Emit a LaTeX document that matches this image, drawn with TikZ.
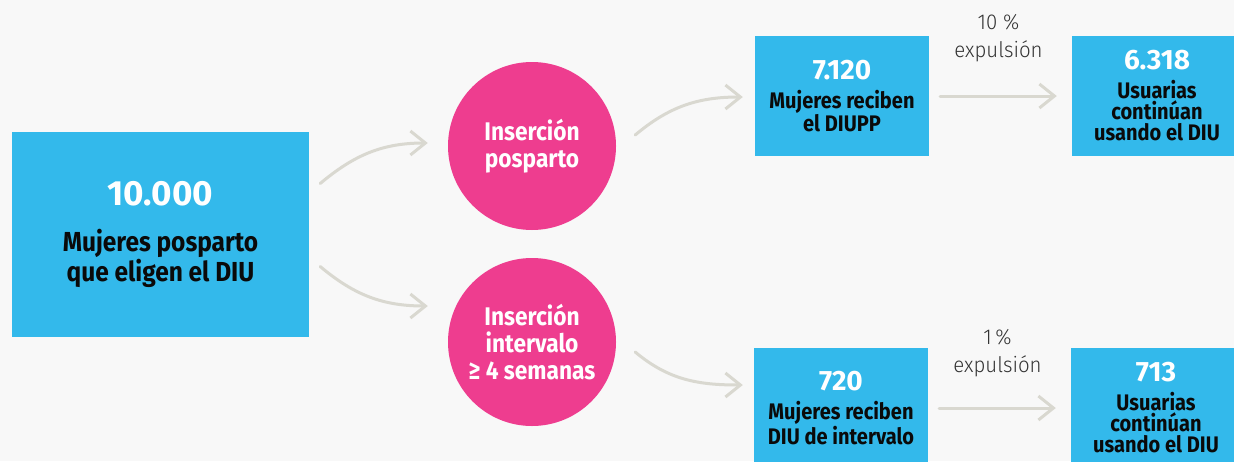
\documentclass[tikz,border=0pt]{standalone}
\usepackage{fontspec}
\usepackage{xcolor}
\usetikzlibrary{arrows.meta,positioning}
\setmainfont{Fira Sans}[FakeStretch=0.89]
\newfontfamily\numfont{Fira Sans}
\newfontfamily\lightfont{Fira Sans Light}[FakeStretch=0.95]
\definecolor{vsky}{HTML}{33B9EB}
\definecolor{vpink}{HTML}{EE3D8F}
\definecolor{varrow}{HTML}{D9D8D0}
\definecolor{vbg}{HTML}{F8F8F8}
\definecolor{vink}{HTML}{0A0A0A}
\definecolor{vlabel}{HTML}{333333}
\newcommand{\boxnum}[2]{{\numfont\bfseries\color{white}\fontsize{#2}{#2}\selectfont #1}}

\begin{document}
\begin{tikzpicture}[x=1pt, y=1pt,
		box/.style={fill=vsky, inner sep=0, align=center, text=vink, minimum width=174pt, minimum height=120pt, font=\bfseries\fontsize{22.5}{21}\selectfont},
		disc/.style={circle, fill=vpink, minimum size=168pt, inner sep=0, align=center, text=white, font=\bfseries\fontsize{25.5}{27}\selectfont},
		flow/.style={draw=varrow, line width=3pt, line cap=round, -{Straight Barb[length=15pt,width=24pt]}},
		note/.style={align=center, text=vlabel, font=\lightfont\fontsize{21.5}{28}\selectfont}]
		\clip (0,0) rectangle (1234,-461);
		\fill[vbg] (0,0) rectangle (1234,-461);
		% boxes and discs
		\node[box, minimum width=297pt, minimum height=205pt, font=\bfseries\fontsize{27.5}{30}\selectfont] (big) at (160.5,-234.5) {\boxnum{10.000}{35}\\[16pt]Mujeres posparto\\que eligen el DIU};
		\node[disc] (ins1) at (532,-146) {Inserción\\posparto};
		\node[disc] (ins2) at (532,-342) {Inserción\\intervalo\\≥ 4 semanas};
		\node[box] (rec1) at (842,-96) {\boxnum{7.120}{28}\\[8pt]Mujeres reciben\\el DIUPP};
		\node[box] (rec2) at (841,-408) {\boxnum{720}{28}\\[8pt]Mujeres reciben\\DIU de intervalo};
		\node[box, minimum width=170pt] (cont1) at (1157,-96) {\boxnum{6.318}{28}\\[8pt]Usuarias\\continúan\\usando el DIU};
		\node[box, minimum width=170pt] (cont2) at (1156,-408) {\boxnum{713}{28}\\[8pt]Usuarias\\continúan\\usando el DIU};
		% arrows
		\draw[flow] ([shift={(11,51)}]big.east) to[out=40, in=180] ([shift={(-20,3)}]ins1.west);
		\draw[flow] ([shift={(11,-32)}]big.east) to[out=-40, in=180] ([shift={(-20,36)}]ins2.west);
		\draw[flow] ([shift={(19,11)}]ins1.east) to[out=40, in=180] ([shift={(-12,-1)}]rec1.west);
		\draw[flow] ([shift={(19,-10)}]ins2.east) to[out=-40, in=180] ([shift={(-11,23)}]rec2.west);
		\draw[flow] ([xshift=11pt]rec1.east) -- node[note, midway, yshift=58pt] (exp1) {10~\%\\expulsión} ([xshift=-15pt]cont1.west);
		\draw[flow] ([xshift=11pt]rec2.east) -- node[note, midway, yshift=54.5pt] (exp2) {1\,\%\\expulsión} ([xshift=-15pt]cont2.west);
	\end{tikzpicture}
\end{document}
